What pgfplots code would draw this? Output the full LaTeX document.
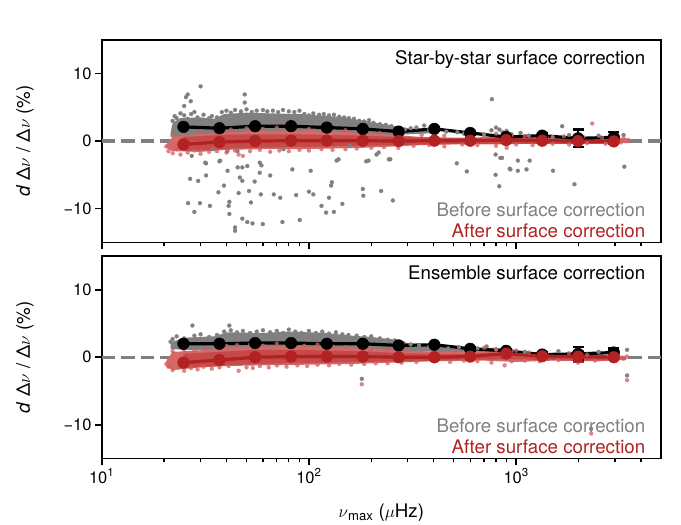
\documentclass[border=0pt]{standalone}
\usepackage{fontspec}
\setmainfont{TeX Gyre Heros}
\usepackage{pgfplots}
\pgfplotsset{compat=1.18}
\definecolor{fb}{RGB}{178,34,34}
\definecolor{redpt}{RGB}{208,96,96}
\definecolor{redcore}{RGB}{214,104,104}
\definecolor{redband}{RGB}{198,74,74}
\definecolor{grey}{RGB}{128,128,128}
\newcommand{\tickfont}{\fontsize{16.5bp}{19bp}\selectfont}
\newcommand{\lblfont}{\fontsize{18.7bp}{22bp}\selectfont}
\newcommand{\ttlfont}{\fontsize{22.5bp}{26bp}\selectfont}
\pgfplotsset{
  gpts/.style={grey, only marks, mark=*, mark size=2bp, mark options={draw=grey, fill=grey, line width=0.2bp}},
  rpts/.style={redpt, only marks, mark=*, mark size=2bp, mark options={draw=redpt, fill=redpt, line width=0.2bp, opacity=0.75}},
  zeroline/.style={grey, line width=3.5bp, dash pattern=on 13.5bp off 6bp},
}
\begin{document}
\begin{tikzpicture}
\path[use as bounding box] (-101.7bp,-282.7bp) rectangle (579.3bp,242.3bp);
% ---------------- top panel ----------------
\begin{axis}[scale only axis, width=559.3bp, height=202.5bp,
    xmode=log, xmin=10, xmax=5000, ymin=-15, ymax=15,
    xtick={10,100,1000},
    minor xtick={20,30,40,50,60,70,80,90,200,300,400,500,600,700,800,900,2000,3000,4000},
    ytick={-10,0,10}, yticklabels={−10,0,10},
    xtick pos=bottom, ytick pos=left, tick align=outside,
    major tick length=6.7bp, minor tick length=3.8bp,
    every major tick/.append style={line width=1.6bp, black},
    every minor tick/.append style={line width=1.2bp, black},
    axis line style={line width=1.6bp},
    tick label style={font=\tickfont},
  at={(0,0)}, anchor=south west, xticklabels={},
  ylabel={\lblfont\textit{d} Δ$\nu$ / Δ$\nu$ (\%)},
  ylabel style={at={(axis description cs:-0.137,0.5)}, anchor=center}]
\addplot[zeroline] coordinates {(10,0) (5000,0)};
\addplot[fill=grey, draw=none] coordinates {
(21.5,1.2) (22,2.7) (24,3.4) (30,3.5) (35,3.3) (39,4.0) (50,4.2) (65,4.1) (90,4.0) (110,3.8)
(140,3.6) (175,3.1) (210,2.7) (262,2.2) (300,1.9) (360,1.7) (420,1.7)
(420,1.2) (300,1.0) (200,0.6) (100,0.5) (40,0.5) (21.5,0.6)};
\addplot[gpts] coordinates {
(22,3.0) (22.5,3.7) (23,3.4) (24,4.1) (25,3.8) (26,3.3) (27,4.0) (28,4.3) (29,3.5) (31,3.9)
(33,3.4) (34,3.7) (36,3.5) (38,4.3) (40,4.5) (42,4.2) (44,4.6) (47,4.4) (50,4.7) (53,4.3)
(56,4.5) (60,4.6) (63,4.4) (67,4.5) (71,4.3) (75,4.6) (80,4.4) (85,4.3) (90,4.5) (95,4.0)
(100,3.8) (105,4.1) (112,3.9) (118,4.0) (125,3.8) (132,3.9) (140,3.6) (148,3.5) (156,3.4)
(165,3.3) (175,3.0) (185,2.9) (195,3.1) (205,2.7) (220,2.5) (235,2.4) (250,2.2) (270,1.9)
(290,1.7) (310,1.9) (330,2.0) (360,2.3) (380,1.7) (420,1.6) (460,1.4) (520,1.3) (560,1.1)
(620,0.9) (700,1.0) (760,1.6) (800,2.0) (830,1.7) (860,1.3) (900,1.5) (950,1.0) (1050,1.2)
(1150,0.8) (1300,1.0) (1500,0.6) (1800,0.9) (2100,0.6) (2500,0.8) (3000,1.1) (3300,0.9)
(30,8.1) (26,6.9) (26.9,5.9) (49,6.9) (49,5.7) (764,6.2) (1668,2.2) (25.5,6.5) (25,5.2)
(27.2,-2.2) (31.9,-3.3) (26.7,-5.6) (29.2,-5.9) (31.9,-5.1) (26.1,-9.2) (28.0,-10.5) (29.8,-9.2)
(33.3,-9.6) (37.0,-3.0) (40.5,-4.4) (36.6,-7.6) (38.9,-6.6) (41.3,-9.0) (41.0,-9.6) (41.3,-10.8)
(44.0,-12.8) (44.0,-13.3) (47.7,-11.5) (45.8,-7.7) (45.3,-3.9) (47.7,-3.9) (46.4,-5.4) (47.7,-5.9)
(50.4,-3.7) (51.4,-7.4) (52.5,-9.1) (50.4,-12.0) (53.4,-12.2) (59.9,-12.3) (57.9,-3.2) (59,-3.6)
(57.9,-4.7) (58.6,-7.9) (54.7,-6.0) (65.0,-5.1) (67.7,-7.9) (72.7,-8.4) (74.5,-12.0) (86.7,-8.0)
(90.3,-11.7) (83.2,-4.2) (100,-7.5) (105,-7.9) (102,-4.4) (115,-9.6) (121,-10.6) (132,-10.5)
(128,-6.6) (129,-6.1) (136,-2.9) (125,-8.4) (145,-9.3) (182,-7.1) (183,-8.1) (189,-3.0)
(212,-2.0) (223,-7.4) (247,-2.7) (254,-8.8) (517,-3.3) (578,-4.5) (796,-2.0) (839,-2.5)
(796,-5.0) (829,-6.7) (931,-4.1) (1019,-4.4) (1019,-2.9) (1162,-2.9) (1506,-4.4) (1911,-6.4)
(3327,-3.8) (938,-4.2) (1122,-4.2) (855,-2.5) (34.6,-1.2) (37.3,-2.9) (40.4,-1.5) (45.2,-1.5)
(75.4,-1.2) (139,-2.7) (158,-0.7) (194,-2.9) (217,-1.7) (243,-2.7) (31.6,-3.2)};
\addplot[fill=redcore, draw=none] coordinates {
(20.5,-0.5) (22,0.6) (25,0.9) (30,1.0) (40,1.3) (60,1.5) (90,1.6) (130,1.5) (180,1.2) (260,0.9)
(350,0.6) (500,0.5) (800,0.6) (1200,0.5) (2000,0.5) (3500,0.4)
(3500,-0.3) (2000,-0.4) (1200,-0.4) (800,-0.5) (500,-0.5) (350,-0.6) (260,-0.8) (180,-1.0)
(130,-1.1) (90,-1.2) (60,-1.2) (40,-1.3) (30,-1.6) (22,-1.5) (20.5,-1.0)};
\addplot[fill=redband, draw=none] coordinates {
(24.8,0.6) (37,0.9) (55,1.0) (82,1.0) (122,0.9) (182,0.8) (271,0.6) (403,0.5) (600,0.4) (895,0.5)
(1335,0.4) (1990,0.4) (2960,0.3)
(2960,-0.4) (1990,-0.4) (1335,-0.4) (895,-0.4) (600,-0.4) (403,-0.5) (271,-0.6) (182,-0.7)
(122,-0.8) (82,-0.9) (55,-1.0) (37,-1.2) (24.8,-1.5)};
\addplot[rpts] coordinates {
(20.5,-0.8) (21,-1.5) (22,-1.8) (23,-1.2) (24,-2.0) (26,-1.7) (28,-1.4) (30,-1.9) (33,-1.6)
(36,-1.5) (40,-1.7) (44,-1.4) (48,-2.2) (52,-1.5) (58,-1.3) (65,-1.6) (72,-1.4) (80,-1.5)
(90,-1.3) (100,-1.4) (115,-1.2) (130,-1.3) (150,-1.2) (170,-1.1) (200,-1.0) (230,-0.9)
(270,-1.0) (320,-0.7) (380,-0.6) (450,-0.8) (550,-0.5) (650,-0.6) (800,-0.7) (900,-1.0)
(1000,-0.5) (1200,-0.6) (1500,-0.4) (1800,-0.5) (2200,-0.3) (2700,-0.4) (3200,-0.2) (3500,0.1)
(22,1.0) (25,1.2) (30,1.4) (35,1.3) (42,1.7) (50,1.9) (60,1.8) (70,2.0) (85,1.9) (100,1.8)
(120,1.7) (150,1.6) (180,1.4) (220,1.2) (280,1.0) (350,0.9) (450,0.8) (600,0.9) (700,0.6)
(800,1.1) (950,0.8) (1100,0.7) (1400,0.6) (1700,0.7) (2328,2.6) (2600,0.5) (3300,0.4) (45.8,-2.0)};
\addplot[black, line width=3.2bp, mark=*, mark size=5.8bp, mark options={fill=black, draw=black, line width=0.5bp},
  error bars/.cd, y dir=both, y explicit, error bar style={line width=2.4bp, black},
  error mark options={rotate=90, mark size=5.5bp, line width=2.4bp, black}] coordinates {
(24.8,2.1) +- (0,0.2) (37,1.9) +- (0,0.2) (55,2.2) +- (0,0.2) (82,2.2) +- (0,0.2)
(122,2.0) +- (0,0.2) (182,1.8) +- (0,0.2) (271,1.4) +- (0,0.2) (403,1.8) +- (0,0.3)
(600,1.2) +- (0,0.3) (895,0.6) +- (0,0.3) (1335,0.8) +- (0,0.4) (1990,0.4) +- (0,1.3)
(2960,0.55) +- (0,0.8)};
\addplot[fb, line width=3.2bp, mark=*, mark size=5.8bp, mark options={fill=fb, draw=fb, line width=0.5bp},
  error bars/.cd, y dir=both, y explicit, error bar style={line width=2.4bp, fb},
  error mark options={rotate=90, mark size=5.5bp, line width=2.4bp, fb}] coordinates {
(24.8,-0.5) +- (0,0.1) (37,-0.15) +- (0,0.1) (55,0.0) +- (0,0.1) (82,0.05) +- (0,0.1)
(122,0.05) +- (0,0.1) (182,0.05) +- (0,0.1) (271,0.0) +- (0,0.1) (403,0.05) +- (0,0.1)
(600,0.05) +- (0,0.1) (895,0.15) +- (0,0.2) (1335,0.05) +- (0,0.2) (1990,0.0) +- (0,0.3)
(2960,-0.05) +- (0,0.3)};
\node[anchor=base east, font=\lblfont] at (rel axis cs:0.978,0.879) {Star-by-star surface correction};
\node[anchor=base east, font=\lblfont, text=grey] at (rel axis cs:0.978,0.127) {Before surface correction};
\node[anchor=base east, font=\lblfont, text=fb] at (rel axis cs:0.978,0.024) {After surface correction};
\node[anchor=base, font=\ttlfont] at (rel axis cs:0.5,1.065) {\textit{d}: modelled - observed};
\end{axis}
% ---------------- bottom panel ----------------
\begin{axis}[scale only axis, width=559.3bp, height=202.5bp,
    xmode=log, xmin=10, xmax=5000, ymin=-15, ymax=15,
    xtick={10,100,1000},
    minor xtick={20,30,40,50,60,70,80,90,200,300,400,500,600,700,800,900,2000,3000,4000},
    ytick={-10,0,10}, yticklabels={−10,0,10},
    xtick pos=bottom, ytick pos=left, tick align=outside,
    major tick length=6.7bp, minor tick length=3.8bp,
    every major tick/.append style={line width=1.6bp, black},
    every minor tick/.append style={line width=1.2bp, black},
    axis line style={line width=1.6bp},
    tick label style={font=\tickfont},
  at={(0,-13.7bp)}, anchor=north west,
  xticklabels={10\textsuperscript{1},10\textsuperscript{2},10\textsuperscript{3}},
  ylabel={\lblfont\textit{d} Δ$\nu$ / Δ$\nu$ (\%)},
  ylabel style={at={(axis description cs:-0.137,0.5)}, anchor=center},
  xlabel={\lblfont$\nu$\textsubscript{max} ($\mu$Hz)},
  xlabel style={at={(axis description cs:0.5,-0.269)}, anchor=center}]
\addplot[zeroline] coordinates {(10,0) (5000,0)};
\addplot[fill=grey, draw=none] coordinates {
(21.5,2.2) (25,2.9) (35,3.1) (40,3.7) (60,3.6) (80,3.8) (120,3.6) (160,3.2) (200,3.0) (262,2.6)
(300,2.1) (400,1.8) (600,1.5) (900,1.3)
(900,0.5) (600,0.5) (400,0.8) (262,1.0) (150,1.0) (60,1.0) (30,1.0) (21.5,1.2)};
\addplot[gpts] coordinates {
(21.5,2.3) (22,2.7) (23,3.1) (25,2.8) (27.4,4.7) (28,3.2) (30,3.4) (33,3.0) (36,3.3) (39,3.8)
(41.3,4.7) (42,4.0) (45,3.7) (48,3.9) (52,3.6) (56,3.8) (60,4.0) (65,3.7) (70,3.9) (75,3.6)
(80,4.1) (86,3.8) (92,3.6) (100,3.9) (108,3.6) (116,3.8) (125,3.5) (135,3.7) (145,3.4) (155,3.3)
(170,3.2) (185,3.0) (200,3.1) (220,2.8) (240,2.6) (260,2.5) (285,2.1) (310,1.9) (340,1.8)
(380,1.6) (420,1.5) (470,1.3) (530,1.5) (580,1.2) (650,1.3) (720,1.6) (800,1.2) (880,1.5)
(950,1.0) (1100,0.8) (1300,0.7) (1600,0.9) (2000,0.6) (2500,0.8) (3000,0.9) (3430,1.1)
(180,-3.2) (3430,-2.7) (2301,-10.6)};
\addplot[fill=redcore, draw=none] coordinates {
(20.5,-0.5) (22,0.8) (30,1.0) (40,1.5) (60,1.6) (100,1.6) (160,1.5) (250,1.1) (400,0.8) (700,0.9)
(1000,0.9) (1500,0.5) (2500,0.4) (3400,0.2)
(3400,-0.4) (2500,-0.6) (1500,-0.5) (1000,-0.7) (700,-0.5) (400,-0.6) (250,-0.8) (160,-1.0)
(100,-1.1) (60,-1.2) (40,-1.3) (30,-1.5) (22,-1.9) (20.5,-1.4)};
\addplot[fill=redband, draw=none] coordinates {
(24.8,0.5) (37,0.8) (55,1.1) (82,1.1) (122,1.0) (182,0.9) (271,0.6) (403,0.5) (600,0.5) (895,0.8)
(1335,0.4) (1990,0.4) (2960,0.3)
(2960,-0.4) (1990,-0.5) (1335,-0.4) (895,-0.3) (600,-0.4) (403,-0.5) (271,-0.6) (182,-0.7)
(122,-0.8) (82,-0.9) (55,-1.0) (37,-1.3) (24.8,-1.6)};
\addplot[rpts] coordinates {
(20.5,-1.0) (21,-1.4) (22,-1.9) (23.5,-1.5) (25,-2.0) (27,-1.6) (29,-1.8) (31,-1.4) (34,-1.7)
(37,-1.5) (41,-1.3) (45.8,-2.0) (50,-1.5) (53.6,-1.6) (58,-1.3) (64,-1.5) (70,-1.2) (78,-1.4)
(88,-1.2) (98,-1.3) (110,-1.1) (125,-1.2) (140,-1.0) (160,-1.1) (185,-1.0) (210,-0.9) (240,-0.9)
(280,-0.8) (330,-0.7) (400,-0.6) (480,-0.7) (560,-0.5) (650,-0.6) (760,-0.8) (880,-1.2) (950,-0.6)
(1100,-0.5) (1300,-0.6) (1600,-0.4) (1990,-0.8) (2400,-0.5) (2900,-0.3) (3300,-0.2)
(22,0.9) (25,1.1) (28,1.0) (32,1.3) (36,1.5) (40,1.7) (45,1.8) (52,1.9) (60,1.7) (70,2.0) (80,1.8)
(95,1.7) (110,1.9) (130,1.6) (150,1.5) (175,1.4) (200,1.2) (240,1.1) (290,1.0) (350,0.9) (420,0.8)
(500,1.0) (600,1.2) (700,1.4) (800,1.1) (900,1.2) (1000,1.0) (1150,0.7) (1400,0.5) (1800,0.6)
(2200,0.4) (2800,0.3) (180,-4.0) (3430,-3.4) (2301,-11.3) (3430,0.1)};
\addplot[black, line width=3.2bp, mark=*, mark size=5.8bp, mark options={fill=black, draw=black, line width=0.5bp},
  error bars/.cd, y dir=both, y explicit, error bar style={line width=2.4bp, black},
  error mark options={rotate=90, mark size=5.5bp, line width=2.4bp, black}] coordinates {
(24.8,2.0) +- (0,0.2) (37,2.0) +- (0,0.2) (55,2.1) +- (0,0.2) (82,2.1) +- (0,0.2)
(122,2.0) +- (0,0.2) (182,2.0) +- (0,0.2) (271,1.75) +- (0,0.2) (403,1.85) +- (0,0.3)
(600,1.25) +- (0,0.3) (895,0.95) +- (0,0.3) (1335,0.4) +- (0,0.4) (1990,0.5) +- (0,1.0)
(2960,0.7) +- (0,0.6)};
\addplot[fb, line width=3.2bp, mark=*, mark size=5.8bp, mark options={fill=fb, draw=fb, line width=0.5bp},
  error bars/.cd, y dir=both, y explicit, error bar style={line width=2.4bp, fb},
  error mark options={rotate=90, mark size=5.5bp, line width=2.4bp, fb}] coordinates {
(24.8,-0.8) +- (0,0.1) (37,-0.4) +- (0,0.1) (55,0.0) +- (0,0.1) (82,0.1) +- (0,0.1)
(122,0.1) +- (0,0.1) (182,0.1) +- (0,0.1) (271,0.0) +- (0,0.1) (403,0.0) +- (0,0.1)
(600,0.1) +- (0,0.1) (895,0.55) +- (0,0.2) (1335,0.15) +- (0,0.2) (1990,0.1) +- (0,0.8)
(2960,0.0) +- (0,0.3)};
\node[anchor=base east, font=\lblfont] at (rel axis cs:0.978,0.885) {Ensemble surface correction};
\node[anchor=base east, font=\lblfont, text=grey] at (rel axis cs:0.978,0.129) {Before surface correction};
\node[anchor=base east, font=\lblfont, text=fb] at (rel axis cs:0.978,0.025) {After surface correction};
\end{axis}
\end{tikzpicture}
\end{document}
